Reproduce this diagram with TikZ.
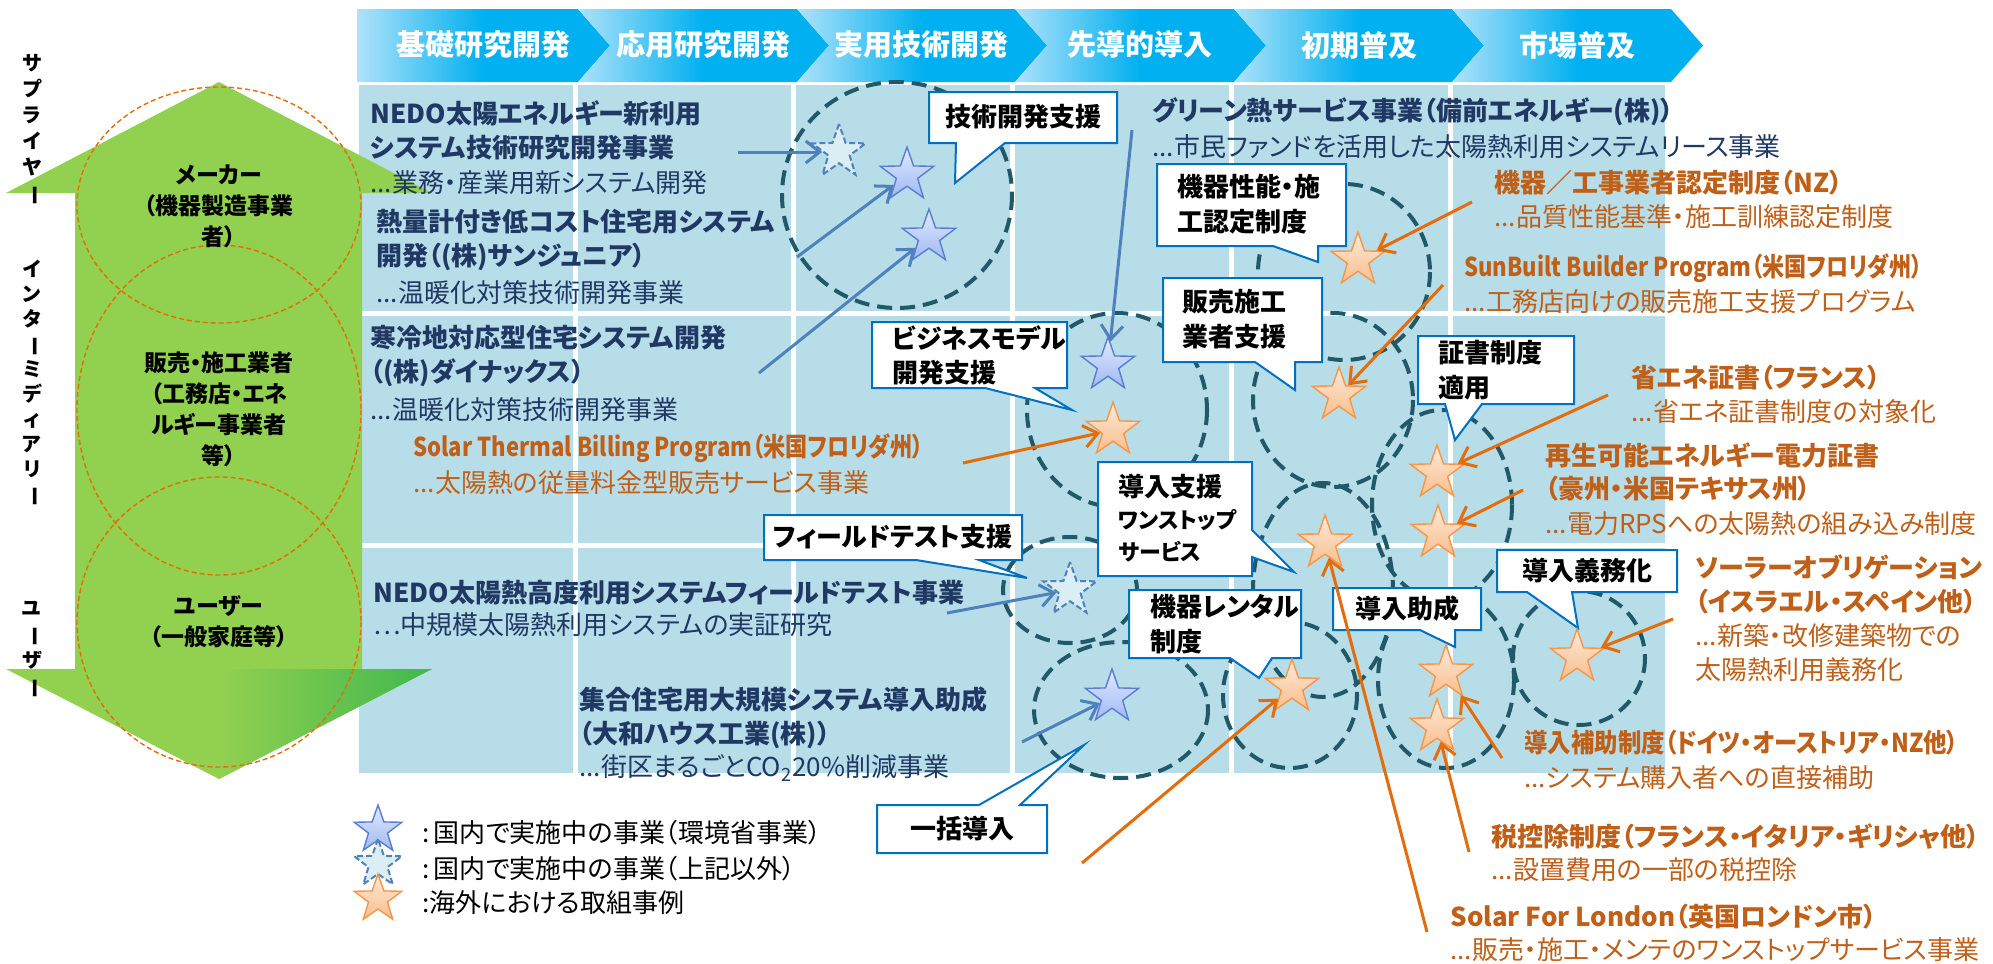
\documentclass[tikz,border=0pt]{standalone}
\usepackage{fontspec}
\setmainfont{Noto Sans CJK JP}[RawFeature=+palt]
\newfontfamily\condA{Noto Sans CJK JP}[RawFeature=+palt,FakeStretch=0.85]
\newfontfamily\condB{Noto Sans CJK JP}[RawFeature=+palt,FakeStretch=0.9]
\usepackage{graphicx}
\usetikzlibrary{shapes.geometric,arrows.meta}
\definecolor{navy}{RGB}{31,56,100}
\definecolor{otext}{RGB}{192,96,24}
\definecolor{oarrow}{RGB}{228,108,10}
\definecolor{barrow}{RGB}{79,129,189}
\definecolor{cborder}{RGB}{0,112,192}
\definecolor{dcirc}{RGB}{33,89,104}
\definecolor{gridbg}{RGB}{183,221,232}
\definecolor{hdrL}{RGB}{175,226,250}
\definecolor{hdrB}{RGB}{0,176,240}
\definecolor{agreen}{RGB}{146,208,80}
\definecolor{agreenD}{RGB}{64,184,78}
\definecolor{eorange}{RGB}{228,108,10}
\definecolor{stOl}{RGB}{253,234,218}
\definecolor{stOd}{RGB}{250,190,140}
\definecolor{stOb}{RGB}{247,150,70}
\definecolor{stBl}{RGB}{225,234,253}
\definecolor{stBd}{RGB}{160,185,245}
\definecolor{stBb}{RGB}{90,125,210}
\definecolor{stDf}{RGB}{218,238,243}
\newcommand{\vcho}{\rotatebox[origin=c]{-90}{ー}}
\begin{document}
\begin{tikzpicture}[x=0.5pt,y=-0.5pt,
  navyT/.style={anchor=west,inner sep=0pt,text=navy,font=\fontsize{13}{15}\selectfont\bfseries},
  navyS/.style={anchor=west,inner sep=0pt,text=navy,font=\fontsize{13}{15}\selectfont},
  orT/.style={anchor=west,inner sep=0pt,text=otext,font=\fontsize{13}{15}\selectfont\bfseries},
  orS/.style={anchor=west,inner sep=0pt,text=otext,font=\fontsize{13}{15}\selectfont},
  htext/.style={inner sep=0pt,text=white,font=\fontsize{14.5}{16}\selectfont\bfseries},
  glabel/.style={inner sep=0pt,align=center,font=\fontsize{11.5}{15.5}\selectfont\bfseries},
  vlab/.style={inner sep=0pt,align=center,font=\fontsize{10}{13}\selectfont\bfseries},
  callout/.style={fill=white,draw=cborder,line width=1pt,line join=miter},
  ctext/.style={inner sep=0pt,font=\fontsize{13}{15}\selectfont\bfseries},
  csmall/.style={inner sep=0pt,anchor=west,font=\fontsize{11}{13}\selectfont\bfseries},
  legtext/.style={anchor=west,inner sep=0pt,font=\fontsize{13}{15}\selectfont},
  dcircle/.style={draw=dcirc,line width=2pt,dash pattern=on 7.5pt off 4pt},
  ocircle/.style={draw=eorange,line width=0.7pt,dash pattern=on 2.5pt off 1.5pt},
  barr/.style={draw=barrow,line width=1.5pt,-{Straight Barb[length=7pt,width=11pt]}},
  oarr/.style={draw=oarrow,line width=1.5pt,-{Straight Barb[length=7pt,width=11pt]}},
  stbase/.style={star,star points=5,star point ratio=2.5,minimum size=28pt,inner sep=0pt},
  sorng/.style={stbase,top color=stOl,bottom color=stOd,draw=stOb,line width=0.7pt},
  sblue/.style={stbase,top color=stBl,bottom color=stBd,draw=stBb,line width=0.7pt},
  sdash/.style={stbase,fill=stDf,draw=barrow,line width=1pt,dash pattern=on 3pt off 1.5pt},
]
\useasboundingbox (0,0) rectangle (1993,964);

% grid background
\foreach \xa/\xb in {359/573,578/791,796/1010,1015/1229,1234/1448,1453/1665}
  \foreach \ya/\yb in {85/311,316/543,548/773}
    \fill[gridbg] (\xa,\ya) rectangle (\xb,\yb);

% header chevrons
\shade[left color=hdrL,right color=hdrB,middle color=hdrB] (357,9) -- (578,9) -- (610,45.5) -- (578,82) -- (357,82) -- cycle;
\foreach \a/\b in {578/797,797/1015,1015/1234,1234/1452,1452/1671}
  \shade[left color=hdrL,right color=hdrB,middle color=hdrB] (\a,9) -- (\b,9) -- (\b+32,45.5) -- (\b,82) -- (\a,82) -- (\a+32,45.5) -- cycle;
\node[htext] (h1) at (483,45) {基礎研究開発};
\node[htext] (h2) at (703,45) {応用研究開発};
\node[htext] (h3) at (921,45) {実用技術開発};
\node[htext] (h4) at (1140,45) {先導的導入};
\node[htext] (h5) at (1359,45) {初期普及};
\node[htext] (h6) at (1577,45) {市場普及};

% green double arrow
\fill[agreen] (219,82) -- (432,193) -- (362,193) -- (362,669) -- (432,669) -- (219,779) -- (6,669) -- (75,669) -- (75,193) -- (6,193) -- cycle;
\begin{scope}
  \clip (6,669) -- (432,669) -- (219,779) -- cycle;
  \shade[left color=agreen,right color=agreenD] (219,600) rectangle (432,779);
\end{scope}
\draw[ocircle] (219,205) ellipse [x radius=142,y radius=118];
\draw[ocircle] (219,410) ellipse [x radius=142,y radius=165];
\draw[ocircle] (219,622) ellipse [x radius=142,y radius=145];
\node[glabel] (g1) at (219,206) {メーカー\\（機器製造事業\\者）};
\node[glabel] (g2) at (219,409) {販売・施工業者\\（工務店・エネ\\ルギー事業者\\等）};
\node[glabel] (g3) at (219,622) {ユーザー\\（一般家庭等）};

% vertical labels
\node[vlab] (v1) at (32,130) {サ\\プ\\ラ\\イ\\ヤ\\\vcho};
\node[vlab,font=\fontsize{10}{12.5}\selectfont\bfseries] (v2) at (32,383) {イ\\ン\\タ\\\vcho\\ミ\\デ\\ィ\\ア\\リ\\\vcho};
\node[vlab] (v3) at (32,650) {ユ\\\vcho\\ザ\\\vcho};

% dashed circles
\draw[dcircle] (897,195) ellipse [x radius=115,y radius=113];
\draw[dcircle] (1117,410) ellipse [x radius=90,y radius=97];
\draw[dcircle] (1344,272) ellipse [x radius=86,y radius=88];
\draw[dcircle] (1333,400) ellipse [x radius=80,y radius=87];
\draw[dcircle] (1442,505) ellipse [x radius=70,y radius=95];
\draw[dcircle] (1323,590) ellipse [x radius=70,y radius=107];
\draw[dcircle] (1290,695) ellipse [x radius=67,y radius=73];
\draw[dcircle] (1446,680) ellipse [x radius=68,y radius=88];
\draw[dcircle] (1579,658) ellipse [x radius=66,y radius=67];
\draw[dcircle] (1070,590) ellipse [x radius=67,y radius=53];
\draw[dcircle] (1121,710) ellipse [x radius=87,y radius=68];

% callouts
\path[callout] (929,92) -- (1117,92) -- (1117,143) -- (1005,143) -- (955,183) -- (956,143) -- (929,143) -- cycle;
\node[ctext] (c1) at (1023,117) {技術開発支援};
\path[callout] (872,322) -- (1067,322) -- (1067,388) -- (1035,388) -- (1072,410) -- (985,388) -- (872,388) -- cycle;
\node[ctext,anchor=west] (c2a) at (892,338) {ビジネスモデル};
\node[ctext,anchor=west] (c2b) at (892,373) {開発支援};
\path[callout] (1157,164) -- (1346,164) -- (1346,246) -- (1318,246) -- (1318,262) -- (1273,246) -- (1157,246) -- cycle;
\node[ctext,anchor=west] (c3a) at (1177,187) {機器性能・施};
\node[ctext,anchor=west] (c3b) at (1177,222) {工認定制度};
\path[callout] (1163,278) -- (1322,278) -- (1322,362) -- (1295,362) -- (1295,390) -- (1255,362) -- (1163,362) -- cycle;
\node[ctext,anchor=west] (c4a) at (1182,302) {販売施工};
\node[ctext,anchor=west] (c4b) at (1182,337) {業者支援};
\path[callout] (1418,336) -- (1574,336) -- (1574,404) -- (1482,404) -- (1455,440) -- (1445,404) -- (1418,404) -- cycle;
\node[ctext,anchor=west] (c5a) at (1438,353) {証書制度};
\node[ctext,anchor=west] (c5b) at (1438,388) {適用};
\path[callout] (1098,462) -- (1252,462) -- (1252,530) -- (1294,572) -- (1252,557) -- (1252,576) -- (1098,576) -- cycle;
\node[ctext,anchor=west] (c6a) at (1118,487) {導入支援};
\node[csmall] (c6b) at (1118,520) {ワンストップ};
\node[csmall] (c6c) at (1118,552) {サービス};
\path[callout] (764,515) -- (1022,515) -- (1022,560) -- (979,560) -- (1027,578) -- (916,560) -- (764,560) -- cycle;
\node[ctext] (c7) at (893,537) {フィールドテスト支援};
\path[callout] (1129,590) -- (1301,590) -- (1301,658) -- (1272,658) -- (1259,678) -- (1230,658) -- (1129,658) -- cycle;
\node[ctext,anchor=west] (c8a) at (1150,607) {機器レンタル};
\node[ctext,anchor=west] (c8b) at (1150,642) {制度};
\path[callout] (1333,588) -- (1481,588) -- (1481,630) -- (1455,630) -- (1455,647) -- (1420,630) -- (1333,630) -- cycle;
\node[ctext] (c9) at (1407,609) {導入助成};
\path[callout] (1497,550) -- (1677,550) -- (1677,592) -- (1572,592) -- (1578,628) -- (1527,592) -- (1497,592) -- cycle;
\node[ctext] (c10) at (1587,571) {導入義務化};
\path[callout] (877,805) -- (979,805) -- (1084,745) -- (1020,805) -- (1047,805) -- (1047,853) -- (877,853) -- cycle;
\node[ctext] (c11) at (962,829) {一括導入};

% stars
\node[sdash] (sA1) at (839,152) {};
\node[sblue] (sA2) at (907,175) {};
\node[sblue] (sA3) at (929,237) {};
\node[sblue] (sB1) at (1108,365) {};
\node[sorng] (sB2) at (1113,430) {};
\node[sorng] (sC) at (1358,260) {};
\node[sorng] (sD) at (1339,395) {};
\node[sorng] (sE1) at (1437,473) {};
\node[sorng] (sE2) at (1438,533) {};
\node[sorng] (sF) at (1325,543) {};
\node[sorng] (sG) at (1292,687) {};
\node[sorng] (sH1) at (1446,673) {};
\node[sorng] (sH2) at (1437,727) {};
\node[sorng] (sI) at (1577,657) {};
\node[sdash] (sJ) at (1070,590) {};
\node[sblue] (sK) at (1112,697) {};

% texts left
\node[navyT] (t1a) at (370,113) {NEDO太陽エネルギー新利用};
\node[navyT] (t1b) at (370,148) {システム技術研究開発事業};
\node[navyS] (t1c) at (370,183) {...業務・産業用新システム開発};
\node[navyT] (t2a) at (376,222) {熱量計付き低コスト住宅用システム};
\node[navyT] (t2b) at (376,257) {開発（(株)サンジュニア）};
\node[navyS] (t2c) at (376,293) {...温暖化対策技術開発事業};
\node[navyT] (t3a) at (370,338) {寒冷地対応型住宅システム開発};
\node[navyT] (t3b) at (370,373) {（(株)ダイナックス）};
\node[navyS] (t3c) at (370,410) {...温暖化対策技術開発事業};
\node[orT,font=\fontsize{13}{15}\condA\bfseries] (t4a) at (413,448) {Solar Thermal Billing Program（米国フロリダ州）};
\node[orS] (t4b) at (413,483) {...太陽熱の従量料金型販売サービス事業};
\node[navyT] (t5a) at (373,593) {NEDO太陽熱高度利用システムフィールドテスト事業};
\node[navyS] (t5b) at (373,625) {…中規模太陽熱利用システムの実証研究};
\node[navyT] (t6a) at (579,700) {集合住宅用大規模システム導入助成};
\node[navyT] (t6b) at (579,735) {（大和ハウス工業(株)）};
\node[navyS] (t6c) at (579,768) {...街区まるごとCO\textsubscript{2}20\%削減事業};

% texts right
\node[navyT] (t7a) at (1152,112) {グリーン熱サービス事業（備前エネルギー(株)）};
\node[navyS] (t7b) at (1152,147) {...市民ファンドを活用した太陽熱利用システムリース事業};
\node[orT] (t8a) at (1494,183) {機器／工事業者認定制度（NZ）};
\node[orS] (t8b) at (1494,217) {...品質性能基準・施工訓練認定制度};
\node[orT,font=\fontsize{13}{15}\condA\bfseries] (t9a) at (1464,268) {SunBuilt Builder Program（米国フロリダ州）};
\node[orS] (t9b) at (1464,302) {...工務店向けの販売施工支援プログラム};
\node[orT] (t10a) at (1631,378) {省エネ証書（フランス）};
\node[orS] (t10b) at (1631,412) {...省エネ証書制度の対象化};
\node[orT] (t11a) at (1545,455) {再生可能エネルギー電力証書};
\node[orT] (t11b) at (1545,489) {（豪州・米国テキサス州）};
\node[orS] (t11c) at (1545,524) {...電力RPSへの太陽熱の組み込み制度};
\node[orT] (t12a) at (1695,567) {ソーラーオブリゲーション};
\node[orT] (t12b) at (1695,602) {（イスラエル・スペイン他）};
\node[orS] (t12c) at (1695,636) {...新築・改修建築物での};
\node[orS] (t12d) at (1695,670) {太陽熱利用義務化};
\node[orT,font=\fontsize{13}{15}\condB\bfseries] (t13a) at (1524,743) {導入補助制度（ドイツ・オーストリア・NZ他）};
\node[orS] (t13b) at (1524,778) {...システム購入者への直接補助};
\node[orT] (t14a) at (1491,837) {税控除制度（フランス・イタリア・ギリシャ他）};
\node[orS] (t14b) at (1491,870) {...設置費用の一部の税控除};
\node[orT] (t15a) at (1450,917) {Solar For London（英国ロンドン市）};
\node[orS] (t15b) at (1450,950) {...販売・施工・メンテのワンストップサービス事業};

% arrow start points
\coordinate (b1) at (738,152);
\coordinate (b2) at (797,257);
\coordinate (b3) at (759,373);
\coordinate (b4) at (1132,130);
\coordinate (b5) at (947,613);
\coordinate (b6) at (1022,742);
\coordinate (o1) at (963,463);
\coordinate (o2) at (1472,202);
\coordinate (o3) at (1443,285);
\coordinate (o4) at (1608,395);
\coordinate (o5) at (1523,490);
\coordinate (o6) at (1673,619);
\coordinate (o7) at (1502,758);
\coordinate (o8) at (1469,852);
\coordinate (o9) at (1427,932);
\coordinate (o10) at (1082,863);

% arrows
\draw[barr] (b1) -- (sA1);
\draw[barr] (b2) -- (sA2);
\draw[barr] (b3) -- (sA3);
\draw[barr] (b4) -- (sB1);
\draw[barr] (b5) -- (sJ);
\draw[barr] (b6) -- (sK);
\draw[oarr] (o1) -- (sB2);
\draw[oarr] (o2) -- (sC);
\draw[oarr] (o3) -- (sD);
\draw[oarr] (o4) -- (sE1);
\draw[oarr] (o5) -- (sE2);
\draw[oarr] (o6) -- (sI);
\draw[oarr] (o7) -- (sH1);
\draw[oarr] (o8) -- (sH2);
\draw[oarr] (o9) -- (sF);
\draw[oarr] (o10) -- (sG);

% legend
\node[sblue,minimum size=25pt] (L1) at (378,830) {};
\node[sdash,minimum size=25pt] (L2) at (378,864) {};
\node[sorng,minimum size=25pt] (L3) at (378,899) {};
\node[legtext] (L1t) at (422,833) {:\,国内で実施中の事業（環境省事業）};
\node[legtext] (L2t) at (422,869) {:\,国内で実施中の事業（上記以外）};
\node[legtext] (L3t) at (422,903) {:海外における取組事例};
\end{tikzpicture}
\end{document}
